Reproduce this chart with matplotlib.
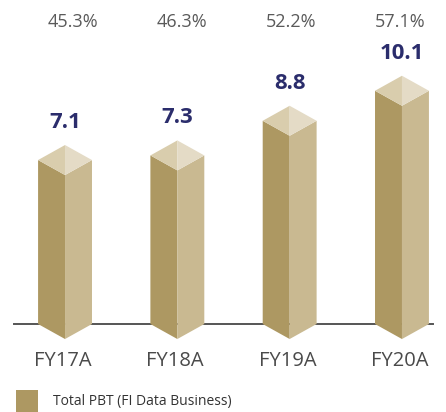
import matplotlib
matplotlib.use("Agg")
import matplotlib.pyplot as plt
from matplotlib.patches import Polygon, Rectangle

plt.rcParams['font.family'] = ['Open Sans', 'DejaVu Sans']

# data
years = ["FY17A", "FY18A", "FY19A", "FY20A"]
pbt = [7.1, 7.3, 8.8, 10.1]
share = ["45.3%", "46.3%", "52.2%", "57.1%"]
legend_label = "Total PBT (FI Data Business)"

# colours of the prism faces
c_left = "#ad9862"
c_right = "#c9b991"
c_top_l = "#d9cdad"
c_top_r = "#e4dbc6"
c_value = "#2b2d6c"

fig = plt.figure(figsize=(4.46, 4.12), dpi=100)
ax = fig.add_axes([0, 0, 1, 1])
ax.set_xlim(-0.579, 3.392)
ax.set_ylim(-3.81, 14.03)
ax.axis("off")

hw = 0.24     # half width of a prism (data units)
depth = 0.65  # vertical offset of the top diamond

# baseline
ax.axhline(0, xmin=0.031, xmax=0.971, color="#555555", lw=1.4, zorder=1)

for i, v in enumerate(pbt):
    l, r = i - hw, i + hw
    left = Polygon([(l, v), (i, v - depth), (i, -depth), (l, 0)],
                   closed=True, fc=c_left, ec="none", zorder=2)
    right = Polygon([(i, v - depth), (r, v), (r, 0), (i, -depth)],
                    closed=True, fc=c_right, ec="none", zorder=2)
    top_l = Polygon([(l, v), (i, v + depth), (i, v - depth)],
                    closed=True, fc=c_top_l, ec="none", zorder=2)
    top_r = Polygon([(i, v + depth), (r, v), (i, v - depth)],
                    closed=True, fc=c_top_r, ec="none", zorder=2)
    for p in (left, right, top_l, top_r):
        ax.add_patch(p)

    ax.text(i, v + depth + 0.98, f"{v:.1f}", ha="center", va="center",
            fontsize=16, fontweight="bold", color=c_value)
    # the % row is spaced a bit tighter than the bars
    ax.text(0.07 + 0.97 * i, 13.07, share[i], ha="center", va="center",
            fontsize=13, color="#5a5a5a")
    ax.text(i - 0.02, -1.6, years[i], ha="center", va="center",
            fontsize=14.5, color="#4a4a4a")

# legend
fig.patches.append(Rectangle((16 / 446, 0.5 / 412), 22 / 446, 22 / 412,
                             transform=fig.transFigure, fc=c_left, ec="none"))
fig.text(53 / 446, 10 / 412, legend_label, ha="left", va="center",
         fontsize=10, color="#333333")

fig.savefig("out.png", dpi=100)
